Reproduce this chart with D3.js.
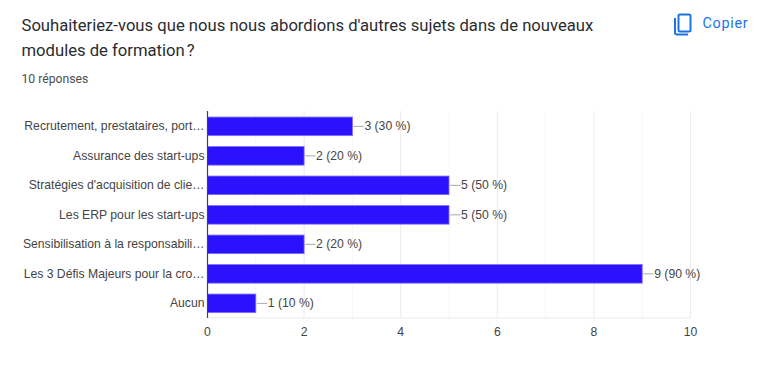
<!DOCTYPE html>
<html><head><meta charset="utf-8">
<script src="https://cdn.jsdelivr.net/npm/d3@7"></script>
<style>html,body{margin:0;padding:0;background:#fff;overflow:hidden}svg{display:block}</style>
</head><body><svg id="c" width="768" height="367"></svg>
<script>
const titleLines = ["Souhaiteriez-vous que nous nous abordions d'autres sujets dans de nouveaux","modules de formation\u202f?"];
const responses = "10 réponses";
const copyLabel = "Copier";
const categories = ["Recrutement, prestataires, port…","Assurance des start-ups","Stratégies d'acquisition de clie…","Les ERP pour les start-ups","Sensibilisation à la responsabili…","Les 3 Défis Majeurs pour la cro…","Aucun"];
const values = [3,2,5,5,2,9,1];
const percents = [30,20,50,50,20,90,10];
const xTicks = [0,2,4,6,8,10];
const minorTicks = [1,3,5,7,9];

const svg = d3.select("#c");
const x = d3.scaleLinear().domain([0,10]).range([207.5,690.5]);
const y = d3.scaleBand().domain(categories).range([111.6,318.1]).paddingInner(0.37).paddingOuter(0.185);

const head = svg.append("g").attr("font-family","Roboto, sans-serif");
head.selectAll("text.t").data(titleLines).join("text").attr("class","t")
  .attr("x",21.5).attr("y",(d,i)=>31+i*24.5).attr("font-size",16.65).attr("fill","#2b2c2f").text(d=>d);
head.append("text").attr("x",21.5).attr("y",83).attr("font-size",12.2).attr("fill","#4a4d50").text(responses);
head.append("text").attr("x",702.5).attr("y",28).attr("font-size",14.4).attr("fill","#1a73e8").attr("letter-spacing",0.7).text(copyLabel);
const icon = svg.append("g").attr("fill","none").attr("stroke","#1a73e8").attr("stroke-width",2);
icon.append("rect").attr("x",678.5).attr("y",14.5).attr("width",12).attr("height",17).attr("rx",1.5);
icon.append("path").attr("d","M675 18v14.5a2 2 0 0 0 2 2h11");

const chart = svg.append("g");
chart.selectAll("line.minor").data(minorTicks).join("line").attr("class","minor")
  .attr("x1",d=>x(d)).attr("x2",d=>x(d)).attr("y1",111).attr("y2",318).attr("stroke","#f7f7f7");
chart.selectAll("line.major").data(xTicks.slice(1)).join("line").attr("class","major")
  .attr("x1",d=>x(d)).attr("x2",d=>x(d)).attr("y1",111).attr("y2",318).attr("stroke","#ebebeb");
chart.append("line").attr("x1",x(0)).attr("x2",x(10)).attr("y1",318).attr("y2",318).attr("stroke","#ebebeb");

const rows = categories.map((c,i)=>({c,v:values[i],p:percents[i]}));
chart.selectAll("rect.bar").data(rows).join("rect").attr("class","bar")
  .attr("x",x(0)).attr("y",d=>y(d.c)).attr("width",d=>x(d.v)-x(0)).attr("height",y.bandwidth())
  .attr("fill","#2a12ff").attr("stroke","#7f70ff").attr("stroke-width",0.8);

chart.append("line").attr("x1",x(0)).attr("x2",x(0)).attr("y1",111).attr("y2",318).attr("stroke","#444").attr("stroke-width",1.2);

const f = "'Liberation Sans', Arial, sans-serif";
chart.selectAll("text.cat").data(rows).join("text").attr("class","cat")
  .attr("x",204.5).attr("y",d=>y(d.c)+y.bandwidth()/2+3.7).attr("text-anchor","end")
  .attr("font-family",f).attr("font-size",12.2).attr("fill","#444").text(d=>d.c);

chart.selectAll("line.lead").data(rows).join("line").attr("class","lead")
  .attr("x1",d=>x(d.v)+1).attr("x2",d=>x(d.v)+11.5)
  .attr("y1",d=>y(d.c)+y.bandwidth()/2).attr("y2",d=>y(d.c)+y.bandwidth()/2)
  .attr("stroke","#aaa");
chart.selectAll("text.val").data(rows).join("text").attr("class","val")
  .attr("x",d=>x(d.v)+12).attr("y",d=>y(d.c)+y.bandwidth()/2+3.7)
  .attr("font-family",f).attr("font-size",12.2).attr("fill","#444").text(d=>`${d.v} (${d.p} %)`);

chart.selectAll("text.tick").data(xTicks).join("text").attr("class","tick")
  .attr("x",d=>x(d)).attr("y",336).attr("text-anchor","middle")
  .attr("font-family",f).attr("font-size",12.2).attr("fill","#444").text(d=>d);
</script></body></html>
